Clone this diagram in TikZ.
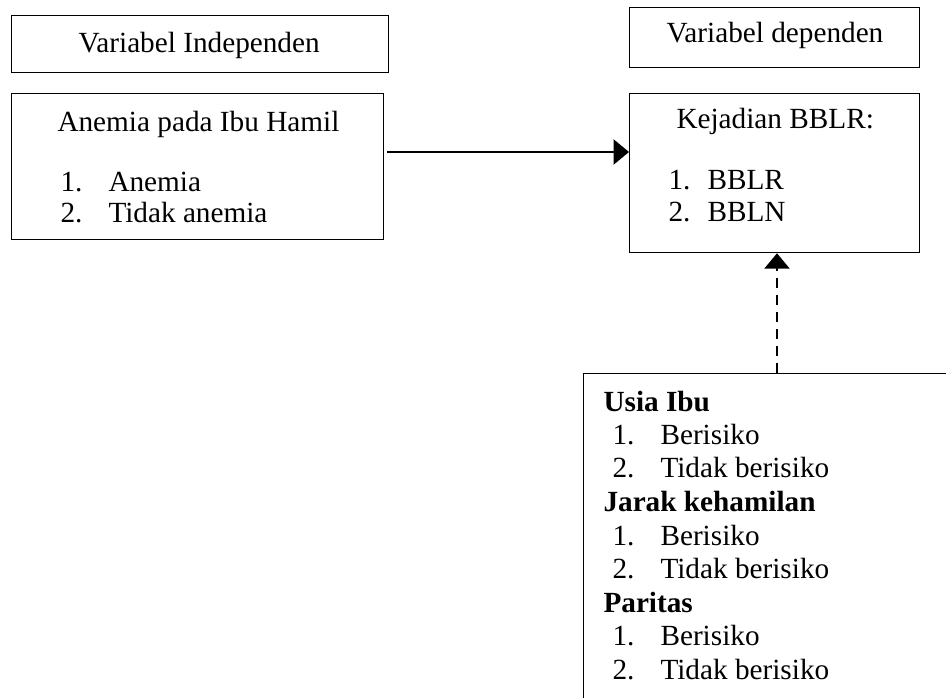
\documentclass[tikz,border=0pt]{standalone}
\usepackage{fontspec}
\setmainfont{Liberation Serif}
\usetikzlibrary{arrows.meta}
\tikzset{
  kotak/.style={draw, line width=0.5pt, anchor=north west, inner sep=0pt},
  teks/.style={anchor=base west, inner sep=0pt, font=\fontsize{11.7pt}{13.4pt}\selectfont},
  panah/.style={line width=1.1pt, -{Triangle[length=6.2pt,width=10pt]}}
}
\begin{document}
\begin{tikzpicture}[x=0.4pt,y=-0.4pt]
\clip (0,0) rectangle (946,698);
% kotak
\node[kotak, minimum width=377*0.4pt, minimum height=57*0.4pt] (judulind) at (11,15) {};
\node[kotak, minimum width=372*0.4pt, minimum height=146*0.4pt] (anemia) at (11,93) {};
\node[kotak, minimum width=290*0.4pt, minimum height=60*0.4pt] (juduldep) at (629,7) {};
\node[kotak, minimum width=290*0.4pt, minimum height=159*0.4pt] (kejadian) at (629,93) {};
\node[kotak, minimum width=420*0.4pt, minimum height=400*0.4pt] (faktor) at (583,373) {};
% teks kiri
\node[teks] (tind) at (78,53) {Variabel Independen};
\node[teks] (tanemia) at (57,132) {Anemia pada Ibu Hamil};
\node[teks] (na1) at (60,192) {1.};
\node[teks] (ta1) at (108,192) {Anemia};
\node[teks] (na2) at (60,223) {2.};
\node[teks] (ta2) at (108,223) {Tidak anemia};
% teks kanan
\node[teks] (tdep) at (666,43) {Variabel dependen};
\node[teks] (tkej) at (676,129) {Kejadian BBLR:};
\node[teks] (nk1) at (668,190) {1.};
\node[teks] (tk1) at (707,190) {BBLR};
\node[teks] (nk2) at (668,222) {2.};
\node[teks] (tk2) at (707,222) {BBLN};
% faktor lain
\node[teks, font=\fontsize{11.7pt}{13.4pt}\selectfont\bfseries] (tusia) at (603,412) {Usia Ibu};
\node[teks] (nu1) at (612,445) {1.};
\node[teks] (tu1) at (660,445) {Berisiko};
\node[teks] (nu2) at (612,478) {2.};
\node[teks] (tu2) at (660,478) {Tidak berisiko};
\node[teks, font=\fontsize{11.7pt}{13.4pt}\selectfont\bfseries] (tjarak) at (603,512) {Jarak kehamilan};
\node[teks] (nj1) at (612,545) {1.};
\node[teks] (tj1) at (660,545) {Berisiko};
\node[teks] (nj2) at (612,578) {2.};
\node[teks] (tj2) at (660,578) {Tidak berisiko};
\node[teks, font=\fontsize{11.7pt}{13.4pt}\selectfont\bfseries] (tparitas) at (603,612) {Paritas};
\node[teks] (np1) at (612,645) {1.};
\node[teks] (tp1) at (660,645) {Berisiko};
\node[teks] (np2) at (612,679) {2.};
\node[teks] (tp2) at (660,679) {Tidak berisiko};
% panah
\coordinate (pangkal) at (387,152);
\draw[panah] (pangkal) -- (pangkal -| kejadian.west);
\coordinate (pangkalb) at (777,373);
\draw[panah, dash pattern=on 4pt off 2.8pt] (pangkalb) -- (pangkalb |- kejadian.south);
\end{tikzpicture}
\end{document}
